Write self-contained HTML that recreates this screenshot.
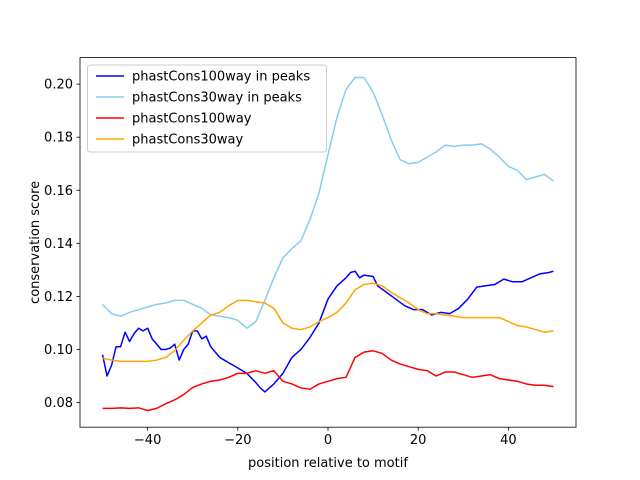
<!DOCTYPE html>
<html><head><meta charset="utf-8"><style>
body{margin:0;background:#fff;}
svg{display:block;font-family:"DejaVu Sans","Liberation Sans",sans-serif;}
</style></head><body>
<svg id="chart" width="640" height="480" viewBox="0 0 640 480"></svg>
<script>
const xPeaks100 = [-50,-49,-48,-47,-46,-45,-44,-43,-42,-41,-40,-39,-38,-37,-36,-35,-34,-33,-32,-31,-30,-29,-28,-27,-26,-25,-24,-22,-20,-18,-16,-15,-14,-12,-10,-8,-6,-4,-2,0,2,4,5,6,7,8,10,11,13,15,17,19,21,23,25,27,29,31,33,35,37,39,41,43,45,47,49,50];
const yPeaks100 = [0.098,0.090,0.094,0.101,0.101,0.1065,0.103,0.106,0.108,0.107,0.108,0.104,0.102,0.100,0.100,0.1005,0.102,0.096,0.100,0.102,0.107,0.107,0.104,0.105,0.101,0.099,0.097,0.095,0.093,0.091,0.0875,0.0855,0.084,0.087,0.091,0.097,0.100,0.1045,0.110,0.119,0.124,0.127,0.129,0.1295,0.127,0.128,0.1275,0.124,0.1215,0.119,0.1165,0.115,0.115,0.113,0.114,0.1135,0.1155,0.119,0.1235,0.124,0.1245,0.1265,0.1255,0.1255,0.127,0.1285,0.129,0.1295];
const xCommon = [-50,-48,-46,-44,-42,-40,-38,-36,-34,-32,-30,-28,-26,-24,-22,-20,-18,-16,-14,-12,-10,-8,-6,-4,-2,0,2,4,6,8,10,12,14,16,18,20,22,24,26,28,30,32,34,36,38,40,42,44,46,48,50];
const yPeaks30 = [0.117,0.1135,0.1125,0.114,0.115,0.116,0.117,0.1175,0.1185,0.1185,0.117,0.1155,0.113,0.1125,0.112,0.111,0.108,0.1105,0.1185,0.127,0.1345,0.138,0.141,0.149,0.159,0.1735,0.1875,0.198,0.2025,0.2025,0.197,0.1885,0.179,0.1715,0.170,0.1705,0.1725,0.1745,0.177,0.1765,0.177,0.177,0.1775,0.1755,0.1725,0.169,0.1675,0.164,0.165,0.166,0.1635];
const y100 = [0.0778,0.0778,0.078,0.0778,0.078,0.077,0.0778,0.0795,0.081,0.083,0.0857,0.087,0.088,0.0885,0.0895,0.091,0.091,0.092,0.091,0.092,0.088,0.087,0.0855,0.085,0.087,0.088,0.089,0.0895,0.097,0.099,0.0995,0.0985,0.096,0.0945,0.0935,0.0925,0.092,0.090,0.0915,0.0915,0.0905,0.0895,0.090,0.0905,0.089,0.0885,0.088,0.087,0.0865,0.0865,0.086];
const y30 = [0.0967,0.096,0.0955,0.0955,0.0955,0.0955,0.096,0.097,0.0995,0.1035,0.107,0.110,0.113,0.114,0.1165,0.1185,0.1185,0.118,0.1175,0.1155,0.110,0.108,0.1075,0.1085,0.1105,0.112,0.114,0.1175,0.1225,0.1245,0.125,0.124,0.1215,0.1195,0.1175,0.115,0.1135,0.1135,0.113,0.1125,0.112,0.112,0.112,0.112,0.112,0.1105,0.109,0.1085,0.1075,0.1065,0.107];
const xTicks = [-40,-20,0,20,40];
const yTicks = [0.08,0.10,0.12,0.14,0.16,0.18,0.20];
const seriesNames = ["phastCons100way in peaks","phastCons30way in peaks","phastCons100way","phastCons30way"];

const L=80,R=576,T=57.6,B=427.2;
const xmin=-55,xmax=55,ymin=0.0707,ymax=0.2100;
const sx=v=>L+(v-xmin)/(xmax-xmin)*(R-L);
const sy=v=>B-(v-ymin)/(ymax-ymin)*(B-T);
const svg=document.getElementById('chart');
const NS='http://www.w3.org/2000/svg';
function mk(tag,attrs,parent){const e=document.createElementNS(NS,tag);for(const k in attrs)e.setAttribute(k,attrs[k]);(parent||svg).appendChild(e);return e;}

const series=[
 {x:xPeaks100,y:yPeaks100,c:'#0000ff',n:'line-phastcons100way-peaks'},
 {x:xCommon,y:yPeaks30,c:'#87ceeb',n:'line-phastcons30way-peaks'},
 {x:xCommon,y:y100,c:'#ff0000',n:'line-phastcons100way'},
 {x:xCommon,y:y30,c:'#ffa500',n:'line-phastcons30way'}];
series.forEach(s=>{
 const d=s.x.map((v,i)=>(i?'L':'M')+sx(v).toFixed(2)+','+sy(s.y[i]).toFixed(2)).join('');
 const p=mk('path',{d:d,fill:'none',stroke:s.c,'stroke-width':1.5,'stroke-linejoin':'round'});
 
 
});
const frame=mk('rect',{x:L,y:T,width:R-L,height:B-T,fill:'none',stroke:'#000','stroke-width':0.8});


xTicks.forEach(t=>{
 mk('line',{x1:sx(t),x2:sx(t),y1:B,y2:B+3.5,stroke:'#000','stroke-width':0.8});
 const tx=mk('text',{x:sx(t),y:B+17,'font-size':13,'text-anchor':'middle',fill:'#000'});
 tx.textContent=(t<0?'\u2212'+(-t):t);
 
 
});
yTicks.forEach(t=>{
 mk('line',{x1:L-3.5,x2:L,y1:sy(t),y2:sy(t),stroke:'#000','stroke-width':0.8});
 const tx=mk('text',{x:L-7,y:sy(t)+4.5,'font-size':13,'text-anchor':'end',fill:'#000'});
 tx.textContent=t.toFixed(2);
 
 
});
const xl=mk('text',{x:(L+R)/2,y:467,'font-size':13,'text-anchor':'middle'});
xl.textContent='position relative to motif';


const yl=mk('text',{x:0,y:0,'font-size':13,'text-anchor':'middle',transform:'translate(39,'+((T+B)/2)+') rotate(-90)'});
yl.textContent='conservation score';


const lg=mk('g',{});


mk('rect',{x:87.5,y:65,width:239,height:87,rx:3,fill:'#fff','fill-opacity':0.8,stroke:'#ccc','stroke-width':1},lg);
series.forEach((s,i)=>{
 const yy=76+i*21;
 mk('line',{x1:96,x2:124,y1:yy,y2:yy,stroke:s.c,'stroke-width':1.5},lg);
 const t=mk('text',{x:132,y:yy+4.5,'font-size':13},lg);
 t.textContent=seriesNames[i];
 
 
});
</script>
</body></html>
